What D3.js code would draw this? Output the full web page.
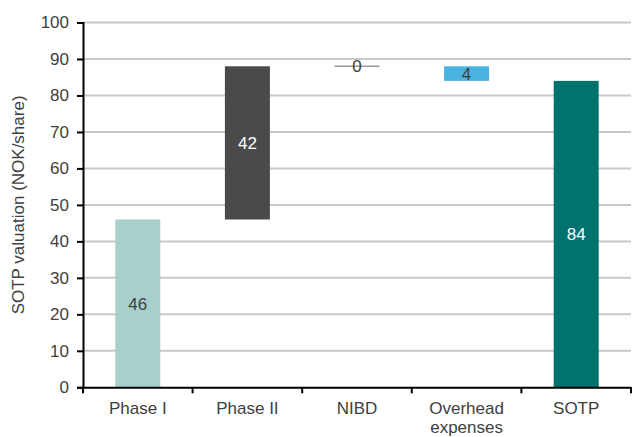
<!DOCTYPE html>
<html>
<head>
<meta charset="utf-8">
<script src="https://cdn.jsdelivr.net/npm/d3@7"></script>
<style>
  html, body { margin: 0; padding: 0; background: #fff; }
  svg { display: block; font-family: "Liberation Sans", Arial, sans-serif; }
</style>
</head>
<body>
<svg id="chart" width="633" height="437"></svg>
<script>
// Sum-of-the-parts bridge, NOK per share
const categories = ["Phase I", "Phase II", "NIBD", "Overhead expenses", "SOTP"];
const values     = [46, 42, 0, -4, 84];
const barKinds   = ["step", "step", "step", "step", "total"];
const barColors  = ["#a7cfcc", "#4a4a4a", "#9a9a9a", "#4ab3e0", "#00736f"];
const labelColors = ["#404040", "#ffffff", "#404040", "#404040", "#ffffff"];
const yTicks     = [0, 10, 20, 30, 40, 50, 60, 70, 80, 90, 100];
const yTitle     = "SOTP valuation (NOK/share)";

const svg = d3.select("#chart");
const margin = { left: 83, right: 2, top: 22.5, bottom: 49.7 };
const W = 633, H = 437;
const plotW = W - margin.left - margin.right;
const plotH = H - margin.top - margin.bottom;

const x = d3.scaleBand().domain(categories).range([0, plotW]).paddingInner(0).paddingOuter(0);
const y = d3.scaleLinear().domain([0, 100]).range([plotH, 0]);

const g = svg.append("g").attr("transform", `translate(${margin.left},${margin.top})`);

// running totals for the floating segments
let running = 0;
const bars = categories.map((c, i) => {
  let lo, hi;
  if (barKinds[i] === "total") {
    lo = 0; hi = values[i];
    running = values[i];
  } else {
    const start = running;
    running += values[i];
    lo = Math.min(start, running);
    hi = Math.max(start, running);
  }
  return { cat: c, value: values[i], lo, hi, color: barColors[i], labelColor: labelColors[i] };
});

// gridlines
g.append("g")
  .selectAll("line")
  .data(yTicks.filter(t => t > 0))
  .join("line")
  .attr("x1", 0).attr("x2", plotW)
  .attr("y1", d => y(d)).attr("y2", d => y(d))
  .attr("stroke", "#c8c8c8").attr("stroke-width", 2);

const barW = 45;
const bx = d => x(d.cat) + x.bandwidth() / 2 - barW / 2;

// bars (zero-height steps are drawn as a thin line)
g.append("g")
  .selectAll("rect")
  .data(bars.filter(d => d.hi - d.lo > 0))
  .join("rect")
  .attr("x", bx)
  .attr("y", d => y(d.hi))
  .attr("width", barW)
  .attr("height", d => y(d.lo) - y(d.hi))
  .attr("fill", d => d.color);

g.append("g")
  .selectAll("line")
  .data(bars.filter(d => d.hi - d.lo === 0))
  .join("line")
  .attr("x1", bx)
  .attr("x2", d => bx(d) + barW)
  .attr("y1", d => y(d.hi)).attr("y2", d => y(d.hi))
  .attr("stroke", d => d.color).attr("stroke-width", 1.5);

// value labels centred in each segment
g.append("g")
  .selectAll("text")
  .data(bars)
  .join("text")
  .attr("x", d => x(d.cat) + x.bandwidth() / 2)
  .attr("y", d => (y(d.lo) + y(d.hi)) / 2)
  .attr("dy", "0.36em")
  .attr("text-anchor", "middle")
  .attr("font-size", 17)
  .attr("fill", d => d.labelColor)
  .text(d => Math.abs(d.value));

// y axis
const yAxis = g.append("g")
  .call(d3.axisLeft(y).tickValues(yTicks).tickSize(6).tickPadding(8));
yAxis.select(".domain").attr("stroke", "#000").attr("stroke-width", 2);
yAxis.selectAll(".tick line").attr("stroke", "#000").attr("stroke-width", 2);
yAxis.selectAll(".tick text")
  .attr("font-size", 17).attr("fill", "#404040")
  .attr("font-family", "Liberation Sans, Arial, sans-serif");

// x axis
const xAxis = g.append("g")
  .attr("transform", `translate(0,${plotH})`)
  .call(d3.axisBottom(x).tickSize(0).tickFormat(""));
xAxis.select(".domain").attr("stroke", "#000").attr("stroke-width", 2);

// boundary ticks between categories
const edges = categories.map(c => x(c)).concat([plotW]);
xAxis.append("g")
  .selectAll("line")
  .data(edges)
  .join("line")
  .attr("x1", d => d).attr("x2", d => d)
  .attr("y1", 0).attr("y2", 6)
  .attr("stroke", "#000").attr("stroke-width", 2);

// category labels, the long one split over two lines
const labelLines = categories.flatMap(c => {
  const parts = c.startsWith("Overhead") ? c.split(" ") : [c];
  return parts.map((p, i) => ({ cat: c, text: p, line: i }));
});
xAxis.append("g")
  .selectAll("text")
  .data(labelLines)
  .join("text")
  .attr("x", d => x(d.cat) + x.bandwidth() / 2)
  .attr("y", d => 27 + d.line * 19)
  .attr("text-anchor", "middle")
  .attr("font-size", 17)
  .attr("fill", "#404040")
  .text(d => d.text);

// y axis title
svg.append("text")
  .attr("transform", `translate(24,${margin.top + plotH / 2}) rotate(-90)`)
  .attr("text-anchor", "middle")
  .attr("font-size", 17)
  .attr("fill", "#404040")
  .text(yTitle);
</script>
</body>
</html>
